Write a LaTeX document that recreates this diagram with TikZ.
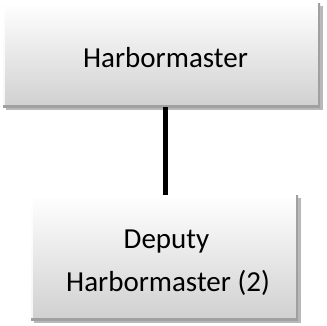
\documentclass[tikz,border=0pt]{standalone}
\usepackage{fontspec}
\setmainfont{Carlito}
\usetikzlibrary{shadows}
\definecolor{boxbot}{RGB}{208,208,208}
\definecolor{edgedark}{RGB}{160,160,160}
\begin{document}
\begin{tikzpicture}[x=1pt,y=1pt,
  box/.style={rectangle, top color=white, bottom color=boxbot, draw=none,
    inner sep=0pt, align=center, font=\fontsize{29}{43}\selectfont,
    drop shadow={shadow xshift=2.5pt, shadow yshift=-3pt, fill=black, opacity=0.28},
    path picture={
      \draw[line width=4pt, draw=white, opacity=0.8]
        (path picture bounding box.south west) -- (path picture bounding box.north west)
        -- (path picture bounding box.north east);
      \draw[line width=4pt, draw=edgedark]
        (path picture bounding box.south west) -- (path picture bounding box.south east)
        -- (path picture bounding box.north east);
    }},
  link/.style={line width=5pt, draw=black}]
\useasboundingbox (0,0) rectangle (327,325);
\node[box, minimum width=317pt, minimum height=104pt] (top) at (161.5,270) {\hspace*{8pt}\rule{0pt}{25pt}Harbormaster};
\node[box, minimum width=267pt, minimum height=125pt] (bot) at (164.5,67.5) {\hspace*{4pt}\rule{0pt}{30pt}Deputy\\\hspace*{7pt}Harbormaster (2)};
\draw[link] ([xshift=4pt]top.south) -- ([xshift=4pt]top.south |- bot.north);
\end{tikzpicture}
\end{document}
